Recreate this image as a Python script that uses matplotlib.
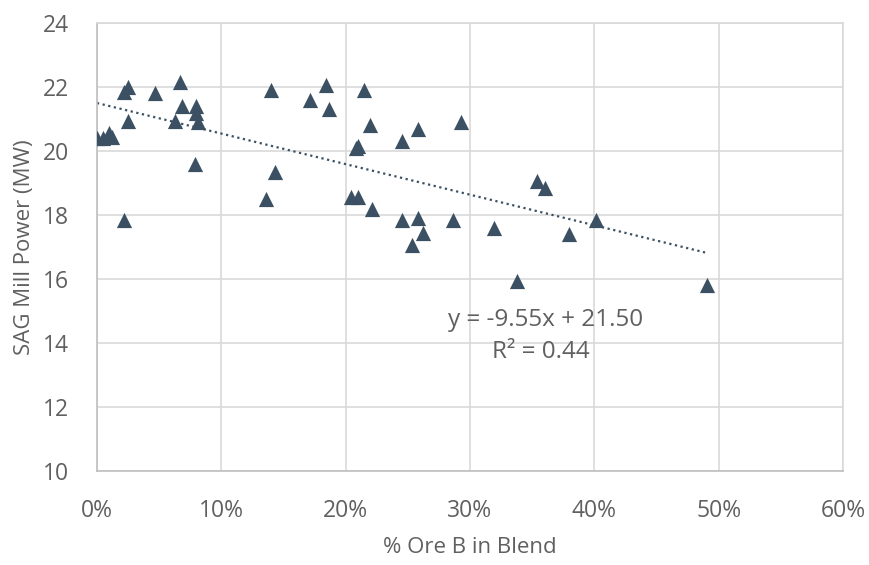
import numpy as np
import matplotlib
matplotlib.use('Agg')
import matplotlib.pyplot as plt

plt.rcParams['font.family'] = ['Open Sans', 'DejaVu Sans']

# % ore B (fraction) and SAG mill power (MW)
ore_b = [0.000, 0.005, 0.010, 0.012, 0.022, 0.025, 0.025, 0.022, 0.047, 0.067,
         0.068, 0.063, 0.080, 0.080, 0.081, 0.079, 0.140, 0.171, 0.184, 0.187,
         0.143, 0.136, 0.215, 0.220, 0.208, 0.210, 0.245, 0.258, 0.293, 0.204,
         0.210, 0.221, 0.245, 0.258, 0.262, 0.286, 0.319, 0.253, 0.354, 0.360,
         0.401, 0.380, 0.338, 0.491]
power = [20.40, 20.40, 20.55, 20.45, 21.85, 22.00, 20.95, 17.85, 21.80, 22.15,
         21.40, 20.95, 21.40, 21.20, 20.90, 19.60, 21.90, 21.60, 22.05, 21.30,
         19.35, 18.50, 21.90, 20.80, 20.10, 20.15, 20.30, 20.70, 20.90, 18.55,
         18.55, 18.20, 17.85, 17.90, 17.45, 17.85, 17.60, 17.05, 19.05, 18.85,
         17.85, 17.40, 15.95, 15.80]

slope = -9.55
intercept = 21.50
x_ticks = [0, 0.1, 0.2, 0.3, 0.4, 0.5, 0.6]
x_labels = ['0%', '10%', '20%', '30%', '40%', '50%', '60%']
y_ticks = [10, 12, 14, 16, 18, 20, 22, 24]

fig = plt.figure(figsize=(8.69, 5.65), dpi=100)
ax = fig.add_axes([0.1116, 0.1664, 0.970 - 0.1116, 0.9593 - 0.1664])

mark = '#3b5062'
grey = '#606060'
gridc = '#d9d9d9'

ax.scatter(ore_b, power, marker='^', s=120, color=mark, zorder=3, linewidths=0)

fx = np.array([0, max(ore_b)])
ax.plot(fx, slope * fx + intercept, linestyle=(0, (1, 1.6)), color=mark, lw=1.6, zorder=2)

ax.text(0.361, 14.72, 'y = -9.55x + 21.50', ha='center', va='center', fontsize=17.5, color=grey)
ax.text(0.357, 13.72, 'R² = 0.44', ha='center', va='center', fontsize=17.5, color=grey)

ax.set_xlim(0, 0.6)
ax.set_ylim(10, 24)
ax.set_xticks(x_ticks)
ax.set_xticklabels(x_labels)
ax.set_yticks(y_ticks)
ax.grid(True, color=gridc, lw=1.2)
ax.set_axisbelow(True)
for s in ax.spines.values():
    s.set_color(gridc)
    s.set_linewidth(1.2)
ax.spines['left'].set_color('#bfbfbf')
ax.spines['bottom'].set_color('#bfbfbf')
ax.tick_params(length=0, labelsize=16.5, colors=grey)
ax.tick_params(axis='y', pad=20)
ax.tick_params(axis='x', pad=20)

ax.set_xlabel('% Ore B in Blend', fontsize=16, color=grey, labelpad=10)
ax.set_ylabel('SAG Mill Power (MW)', fontsize=16, color=grey, labelpad=6)

fig.savefig('out.png', dpi=100)
